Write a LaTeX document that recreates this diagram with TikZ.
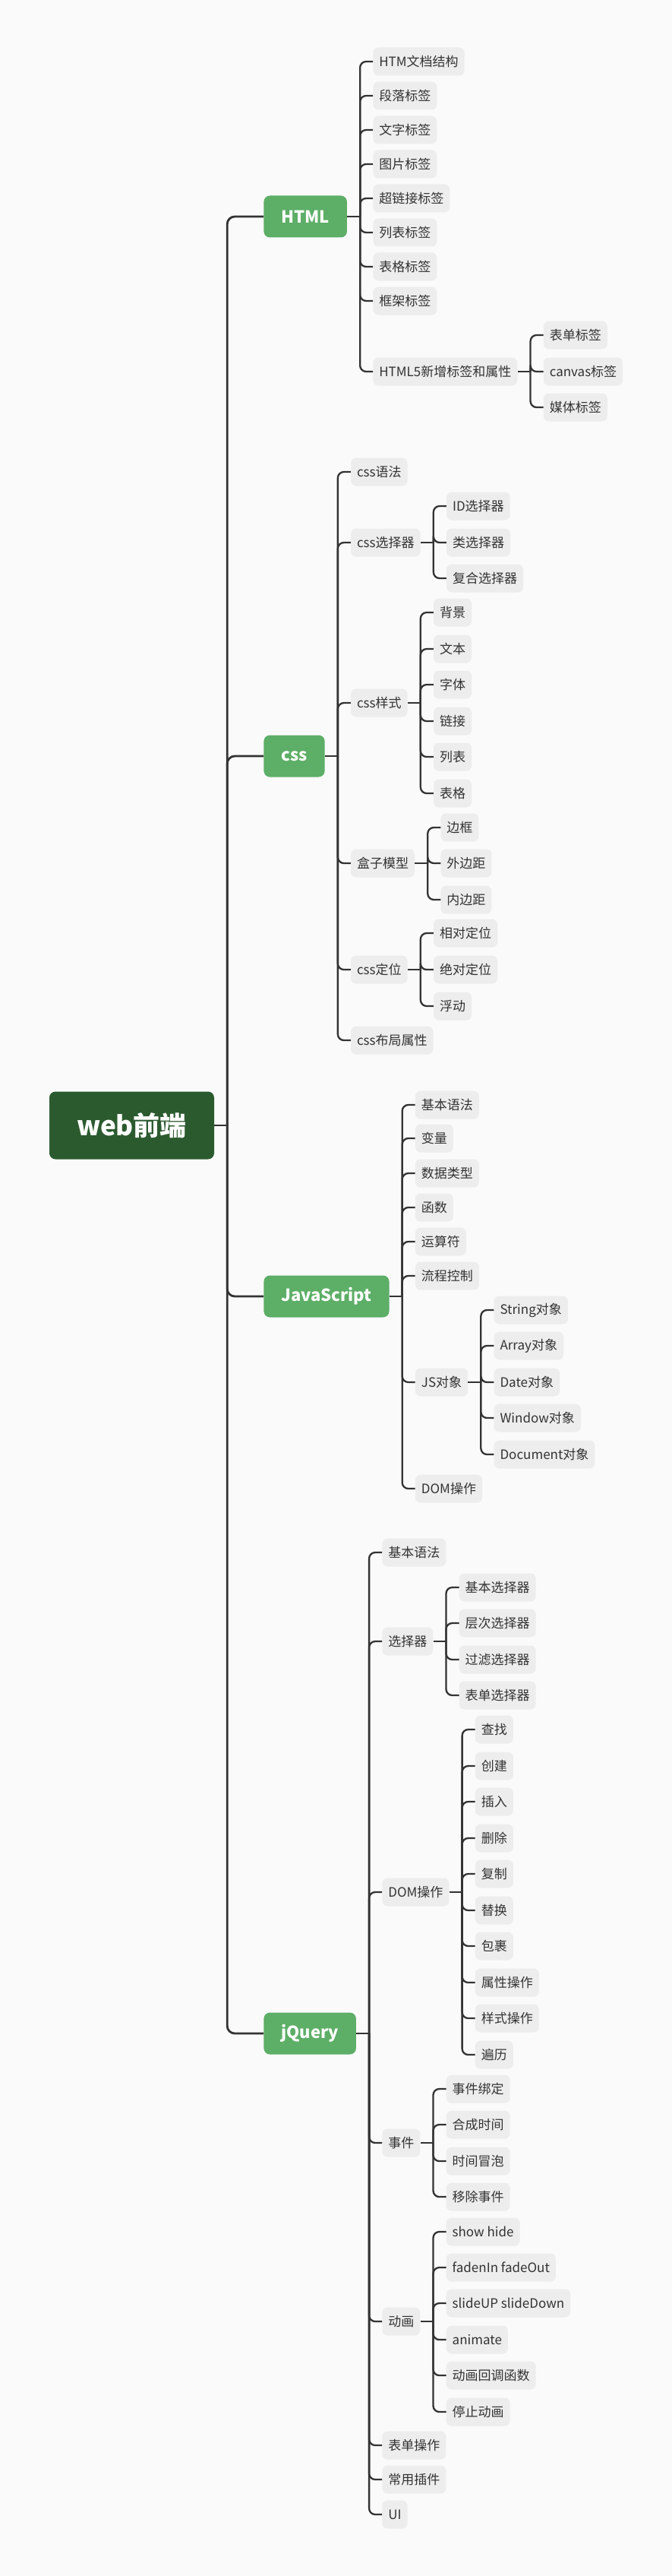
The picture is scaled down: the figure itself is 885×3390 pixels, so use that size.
\documentclass[tikz,border=0pt]{standalone}
\usepackage{fontspec}
\setmainfont{Noto Sans CJK SC}
\usetikzlibrary{positioning,calc}
\definecolor{ink}{HTML}{333333}
\definecolor{paper}{HTML}{FAFAFA}
\definecolor{chip}{HTML}{EDEDED}
\definecolor{mGreen}{HTML}{5DAE67}
\definecolor{dGreen}{HTML}{2C5A2F}
\tikzset{
  trunk/.style={draw=ink, line width=2.8pt, rounded corners=10pt},
  twig/.style={draw=ink, line width=2.3pt, rounded corners=8pt},
}
\begin{document}
\begin{tikzpicture}[x=1pt, y=-1pt,
  root/.style={fill=dGreen, rounded corners=8pt, minimum width=217pt, minimum height=89pt, font=\fontsize{35}{40}\selectfont\bfseries, text=white},
  topic/.style={fill=mGreen, rounded corners=8pt, anchor=west, inner xsep=23pt, minimum height=55pt, font=\fontsize{22}{26}\selectfont\bfseries, text=white},
  leaf/.style={fill=chip, rounded corners=7pt, anchor=west, inner xsep=8pt, minimum height=37pt, font=\fontsize{17}{20}\selectfont, text=ink}]
\useasboundingbox (0,0) rectangle (885,3390);
\fill[paper] (0,0) rectangle (885,3390);

% root and main topics
\node[root] (web) at (173.5,1481) {web前端};
\path (web.east) ++(17,0) coordinate (wb) ++(48,0) coordinate (wx);
\node[topic] (html) at (wx |- 0,285) {HTML};
\node[topic] (css) at (wx |- 0,995) {css};
\node[topic] (js) at (wx |- 0,1706) {JavaScript};
\node[topic] (jq) at (wx |- 0,2676) {jQuery};
\draw[trunk] (web.east) -- (wb);
\foreach \c in {html,css,js,jq} \draw[trunk] (wb) |- (\c.west);

% HTML
\path (html.east) ++(17,0) coordinate (hb) ++(17,0) coordinate (hx);
\node[leaf] (h1) at (hx |- 0,81) {HTM文档结构};
\node[leaf] (h2) at (hx |- 0,126) {段落标签};
\node[leaf] (h3) at (hx |- 0,171) {文字标签};
\node[leaf] (h4) at (hx |- 0,216) {图片标签};
\node[leaf] (h5) at (hx |- 0,261) {超链接标签};
\node[leaf] (h6) at (hx |- 0,306) {列表标签};
\node[leaf] (h7) at (hx |- 0,351) {表格标签};
\node[leaf] (h8) at (hx |- 0,396) {框架标签};
\node[leaf] (h9) at (hx |- 0,489) {HTML5新增标签和属性};
\draw[twig] (html.east) -- (hb);
\foreach \c in {h1,h2,h3,h4,h5,h6,h7,h8,h9} \draw[twig] (hb) |- (\c.west);
\path (h9.east) ++(17,0) coordinate (h9b) ++(17,0) coordinate (h9x);
\node[leaf] (h9a) at (h9x |- 0,441) {表单标签};
\node[leaf] (h9c) at (h9x |- 0,489) {canvas标签};
\node[leaf] (h9m) at (h9x |- 0,536) {媒体标签};
\draw[twig] (h9.east) -- (h9b);
\foreach \c in {h9a,h9c,h9m} \draw[twig] (h9b) |- (\c.west);

% css
\path (css.east) ++(17,0) coordinate (cb) ++(17,0) coordinate (cx);
\node[leaf] (c1) at (cx |- 0,621) {css语法};
\node[leaf] (c2) at (cx |- 0,714) {css选择器};
\node[leaf] (c3) at (cx |- 0,925) {css样式};
\node[leaf] (c4) at (cx |- 0,1136) {盒子模型};
\node[leaf] (c5) at (cx |- 0,1276) {css定位};
\node[leaf] (c6) at (cx |- 0,1369) {css布局属性};
\draw[twig] (css.east) -- (cb);
\foreach \c in {c1,c2,c3,c4,c5,c6} \draw[twig] (cb) |- (\c.west);

\path (c2.east) ++(17,0) coordinate (c2b) ++(17,0) coordinate (c2x);
\node[leaf] (c2a) at (c2x |- 0,666) {ID选择器};
\node[leaf] (c2l) at (c2x |- 0,714) {类选择器};
\node[leaf] (c2f) at (c2x |- 0,761) {复合选择器};
\draw[twig] (c2.east) -- (c2b);
\foreach \c in {c2a,c2l,c2f} \draw[twig] (c2b) |- (\c.west);

\path (c3.east) ++(17,0) coordinate (c3b) ++(17,0) coordinate (c3x);
\node[leaf] (c3a) at (c3x |- 0,806) {背景};
\node[leaf] (c3t) at (c3x |- 0,854) {文本};
\node[leaf] (c3f) at (c3x |- 0,901) {字体};
\node[leaf] (c3l) at (c3x |- 0,949) {链接};
\node[leaf] (c3i) at (c3x |- 0,996) {列表};
\node[leaf] (c3g) at (c3x |- 0,1044) {表格};
\draw[twig] (c3.east) -- (c3b);
\foreach \c in {c3a,c3t,c3f,c3l,c3i,c3g} \draw[twig] (c3b) |- (\c.west);

\path (c4.east) ++(17,0) coordinate (c4b) ++(17,0) coordinate (c4x);
\node[leaf] (c4a) at (c4x |- 0,1089) {边框};
\node[leaf] (c4m) at (c4x |- 0,1136) {外边距};
\node[leaf] (c4p) at (c4x |- 0,1184) {内边距};
\draw[twig] (c4.east) -- (c4b);
\foreach \c in {c4a,c4m,c4p} \draw[twig] (c4b) |- (\c.west);

\path (c5.east) ++(17,0) coordinate (c5b) ++(17,0) coordinate (c5x);
\node[leaf] (c5r) at (c5x |- 0,1228) {相对定位};
\node[leaf] (c5a) at (c5x |- 0,1276) {绝对定位};
\node[leaf] (c5f) at (c5x |- 0,1324) {浮动};
\draw[twig] (c5.east) -- (c5b);
\foreach \c in {c5r,c5a,c5f} \draw[twig] (c5b) |- (\c.west);

% JavaScript
\path (js.east) ++(17,0) coordinate (jb) ++(17,0) coordinate (jx);
\node[leaf] (j1) at (jx |- 0,1454) {基本语法};
\node[leaf] (j2) at (jx |- 0,1498) {变量};
\node[leaf] (j3) at (jx |- 0,1544) {数据类型};
\node[leaf] (j4) at (jx |- 0,1589) {函数};
\node[leaf] (j5) at (jx |- 0,1634) {运算符};
\node[leaf] (j6) at (jx |- 0,1679) {流程控制};
\node[leaf] (j7) at (jx |- 0,1819) {JS对象};
\node[leaf] (j8) at (jx |- 0,1959) {DOM操作};
\draw[twig] (js.east) -- (jb);
\foreach \c in {j1,j2,j3,j4,j5,j6,j7,j8} \draw[twig] (jb) |- (\c.west);

\path (j7.east) ++(17,0) coordinate (j7b) ++(17,0) coordinate (j7x);
\node[leaf] (j7s) at (j7x |- 0,1724) {String对象};
\node[leaf] (j7a) at (j7x |- 0,1771) {Array对象};
\node[leaf] (j7d) at (j7x |- 0,1819) {Date对象};
\node[leaf] (j7w) at (j7x |- 0,1866) {Window对象};
\node[leaf] (j7o) at (j7x |- 0,1914) {Document对象};
\draw[twig] (j7.east) -- (j7b);
\foreach \c in {j7s,j7a,j7d,j7w,j7o} \draw[twig] (j7b) |- (\c.west);

% jQuery
\path (jq.east) ++(17,0) coordinate (qb) ++(17,0) coordinate (qx);
\node[leaf] (q1) at (qx |- 0,2043) {基本语法};
\node[leaf] (q2) at (qx |- 0,2160) {选择器};
\node[leaf] (q3) at (qx |- 0,2490) {DOM操作};
\node[leaf] (q4) at (qx |- 0,2820) {事件};
\node[leaf] (q5) at (qx |- 0,3055) {动画};
\node[leaf] (q6) at (qx |- 0,3218) {表单操作};
\node[leaf] (q7) at (qx |- 0,3263) {常用插件};
\node[leaf] (q8) at (qx |- 0,3309) {UI};
\draw[twig] (jq.east) -- (qb);
\foreach \c in {q1,q2,q3,q4,q5,q6,q7,q8} \draw[twig] (qb) |- (\c.west);

\path (q2.east) ++(17,0) coordinate (q2b) ++(17,0) coordinate (q2x);
\node[leaf] (q2a) at (q2x |- 0,2089) {基本选择器};
\node[leaf] (q2h) at (q2x |- 0,2136) {层次选择器};
\node[leaf] (q2f) at (q2x |- 0,2184) {过滤选择器};
\node[leaf] (q2t) at (q2x |- 0,2231) {表单选择器};
\draw[twig] (q2.east) -- (q2b);
\foreach \c in {q2a,q2h,q2f,q2t} \draw[twig] (q2b) |- (\c.west);

\path (q3.east) ++(17,0) coordinate (q3b) ++(17,0) coordinate (q3x);
\node[leaf] (q3a) at (q3x |- 0,2276) {查找};
\node[leaf] (q3b1) at (q3x |- 0,2324) {创建};
\node[leaf] (q3c) at (q3x |- 0,2371) {插入};
\node[leaf] (q3d) at (q3x |- 0,2419) {删除};
\node[leaf] (q3e) at (q3x |- 0,2466) {复制};
\node[leaf] (q3f) at (q3x |- 0,2514) {替换};
\node[leaf] (q3g) at (q3x |- 0,2561) {包裹};
\node[leaf] (q3h) at (q3x |- 0,2609) {属性操作};
\node[leaf] (q3i) at (q3x |- 0,2656) {样式操作};
\node[leaf] (q3j) at (q3x |- 0,2704) {遍历};
\draw[twig] (q3.east) -- (q3b);
\foreach \c in {q3a,q3b1,q3c,q3d,q3e,q3f,q3g,q3h,q3i,q3j} \draw[twig] (q3b) |- (\c.west);

\path (q4.east) ++(17,0) coordinate (q4b) ++(17,0) coordinate (q4x);
\node[leaf] (q4a) at (q4x |- 0,2749) {事件绑定};
\node[leaf] (q4c) at (q4x |- 0,2796) {合成时间};
\node[leaf] (q4m) at (q4x |- 0,2844) {时间冒泡};
\node[leaf] (q4r) at (q4x |- 0,2891) {移除事件};
\draw[twig] (q4.east) -- (q4b);
\foreach \c in {q4a,q4c,q4m,q4r} \draw[twig] (q4b) |- (\c.west);

\path (q5.east) ++(17,0) coordinate (q5b) ++(17,0) coordinate (q5x);
\node[leaf] (q5s) at (q5x |- 0,2937) {show hide};
\node[leaf] (q5f) at (q5x |- 0,2984) {fadenIn fadeOut};
\node[leaf] (q5u) at (q5x |- 0,3031) {slideUP slideDown};
\node[leaf] (q5a) at (q5x |- 0,3079) {animate};
\node[leaf] (q5c) at (q5x |- 0,3126) {动画回调函数};
\node[leaf] (q5t) at (q5x |- 0,3174) {停止动画};
\draw[twig] (q5.east) -- (q5b);
\foreach \c in {q5s,q5f,q5u,q5a,q5c,q5t} \draw[twig] (q5b) |- (\c.west);
\end{tikzpicture}
\end{document}
